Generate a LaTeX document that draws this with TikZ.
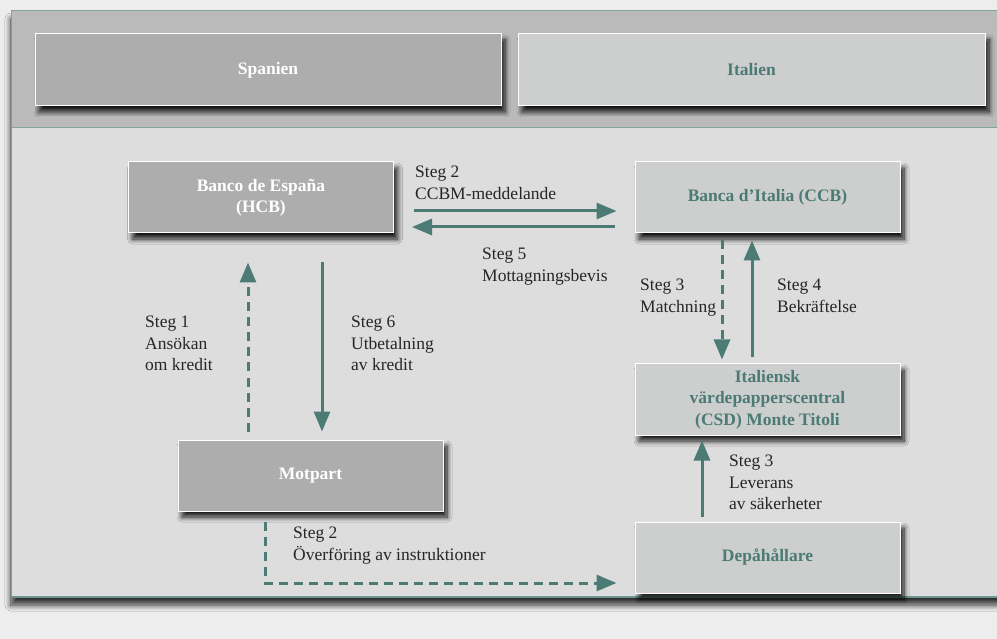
\documentclass[tikz,border=0pt]{standalone}
\usepackage{fontspec}
\setmainfont{Liberation Serif}
\usetikzlibrary{arrows.meta,shadows.blur}
\definecolor{ecbteal}{HTML}{4B7B74}
\definecolor{boxdark}{HTML}{ADADAD}
\definecolor{boxlight}{HTML}{CDCFCE}
\definecolor{bandgray}{HTML}{B9BAB9}
\definecolor{panelgray}{HTML}{DCDDDC}
\newcommand\stegfont{\fontsize{17.5}{21.3}\selectfont}
\tikzset{
  box/.style={rectangle, draw=white, line width=1pt, minimum width=265pt, minimum height=71pt,
    align=center, font=\stegfont\bfseries,
    blur shadow={shadow xshift=4pt, shadow yshift=-6pt, shadow blur radius=5pt, shadow blur steps=10, shadow opacity=90}},
  spain/.style={box, fill=boxdark, text=white},
  italy/.style={box, fill=boxlight, text=ecbteal},
  flow/.style={-{Triangle[length=20pt,width=16pt]}, draw=ecbteal, line width=3pt},
  flowdash/.style={flow, dash pattern=on 9pt off 6pt},
  lbl/.style={anchor=north west, inner sep=0pt, align=left, text=black!85, font=\stegfont},
}
\begin{document}
\begin{tikzpicture}[x=1pt,y=-1pt, line join=miter]
\useasboundingbox (0,0) rectangle (997,639);
% background and frame
\fill[black!7] (0,0) rectangle (997,639);
\path[fill=panelgray, blur shadow={shadow xshift=0pt, shadow yshift=-8pt, shadow blur radius=6pt, shadow blur steps=10, shadow opacity=80}] (11,11) rectangle (1005,597);
\fill[bandgray] (11,11) rectangle (1005,128);
\draw[ecbteal!70, line width=1pt] (1005,11) -- (11,11) -- (11,597);
\draw[ecbteal!70, line width=1pt] (11,128) -- (1005,128);
\draw[ecbteal!80, line width=2pt] (11,597) -- (1005,597);
% countries
\node[spain, minimum width=466pt, minimum height=72pt] (spanien) at (268,70) {Spanien};
\node[italy, minimum width=467pt, minimum height=72pt] (italien) at (751.5,70) {Italien};
% institutions
\node[spain] (hcb) at (261,197.5) {Banco de España\\(HCB)};
\node[italy] (ccb) at (767.5,197.5) {Banca d’Italia (CCB)};
\node[italy] (csd) at (767.5,399.5) {Italiensk\\värdepapperscentral\\(CSD) Monte Titoli};
\node[spain] (motpart) at (310.5,475.5) {Motpart};
\node[italy] (dep) at (767.5,557.5) {Depåhållare};
% steps
\draw[flow, shorten <=20pt, shorten >=18pt] ([yshift=-13.5pt]hcb.east) -- ([yshift=-13.5pt]ccb.west);
\draw[flow, shorten <=20pt, shorten >=18pt] ([yshift=-29.5pt]ccb.west) -- ([yshift=-29.5pt]hcb.east);
\draw[flowdash, shorten <=8pt, shorten >=29pt] ([xshift=-62.5pt]motpart.north) -- ([xshift=-62.5pt]motpart.north |- hcb.south);
\draw[flow, shorten <=29pt, shorten >=8pt] ([xshift=61pt]hcb.south) -- ([xshift=61pt]hcb.south |- motpart.north);
\draw[flowdash, shorten <=7pt, shorten >=4pt] ([xshift=-45.5pt]ccb.south) -- ([xshift=-45.5pt]csd.north);
\draw[flow, shorten <=6pt, shorten >=7pt] ([xshift=-15.5pt]csd.north) -- ([xshift=-15.5pt]ccb.south);
\draw[flow, shorten <=5pt, shorten >=5pt] ([xshift=-65.5pt]dep.north) -- ([xshift=-65.5pt]csd.south);
\draw[flowdash, shorten <=10pt, shorten >=18pt] ([xshift=-45.5pt]motpart.south) |- ([yshift=-25.5pt]dep.west);
% labels
\node[lbl] (l2) at (415,166) {Steg 2\\CCBM-meddelande};
\node[lbl] (l5) at (482,248) {Steg 5\\Mottagningsbevis};
\node[lbl] (l1) at (145,316) {Steg 1\\Ansökan\\om kredit};
\node[lbl] (l6) at (351,316) {Steg 6\\Utbetalning\\av kredit};
\node[lbl] (l3m) at (640,279) {Steg 3\\Matchning};
\node[lbl] (l4) at (777,279) {Steg 4\\Bekräftelse};
\node[lbl] (l3l) at (729,455) {Steg 3\\Leverans\\av säkerheter};
\node[lbl] (l2o) at (293,527) {Steg 2\\Överföring av instruktioner};
\end{tikzpicture}
\end{document}
